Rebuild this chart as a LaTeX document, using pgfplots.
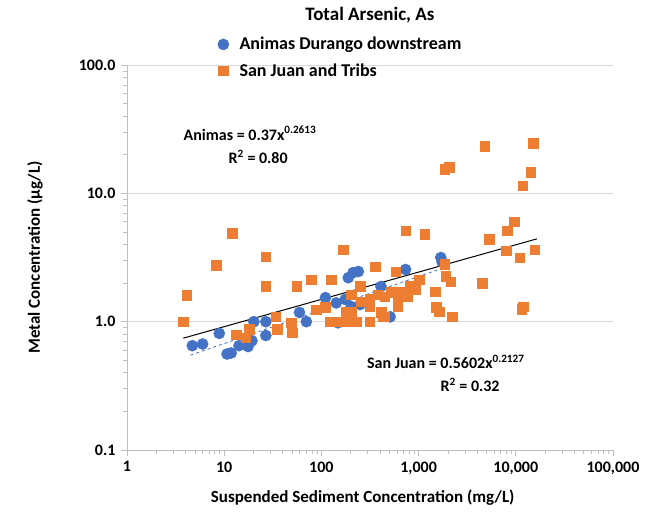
\documentclass[border=0pt]{standalone}
\usepackage{fontspec}
\setmainfont{Carlito}
\usepackage{pgfplots}
\pgfplotsset{compat=1.18}
\definecolor{exblue}{RGB}{68,114,196}
\definecolor{exorange}{RGB}{237,125,49}
\definecolor{axgray}{RGB}{191,191,191}
\definecolor{gridgray}{RGB}{217,217,217}

\begin{document}
\begin{tikzpicture}
\useasboundingbox (-127pt,-62pt) rectangle (522pt,450pt);
\begin{axis}[
  at={(0,0)}, anchor=south west,
  scale only axis, width=486pt, height=385pt,
  xmode=log, ymode=log,
  xmin=1, xmax=100000, ymin=0.1, ymax=100,
  xtick={1,10,100,1000,10000,100000},
  xticklabels={1,10,100,{1,000},{10,000},{100,000}},
  ytick={0.1,1,10,100},
  yticklabels={0.1,1.0,10.0,100.0},
  axis x line*=bottom, axis y line*=left,
  axis line style={axgray, line width=0.9pt},
  ymajorgrids, major grid style={gridgray, line width=0.9pt},
  tick align=outside, tick style={axgray, line width=0.7pt},
  major tick length=6pt, minor tick length=4pt,
  tick label style={font=\fontsize{16}{18}\selectfont\bfseries, text=black},
  xticklabel style={yshift=-2pt},
  yticklabel style={xshift=-2pt},
  xlabel={Suspended Sediment Concentration (mg/L)},
  ylabel={Metal Concentration (µg/L)},
  label style={font=\fontsize{17}{20}\selectfont\bfseries},
  xlabel style={at={(axis description cs:0.485,-0.1247)}, anchor=center},
  ylabel style={at={(axis description cs:-0.1893,0.5)}, anchor=center, rotate=0},
  legend style={at={(axis description cs:0.1728,1.0195)}, anchor=west,
    draw=none, fill=none, inner sep=0pt, row sep=8pt,
    font=\fontsize{18}{21}\selectfont\bfseries},
  legend cell align=left,
  legend image code/.code={\path (0pt,0pt) (26pt,0pt);
    \draw[#1, mark repeat=2, mark phase=2] plot coordinates {(0pt,0pt) (12pt,0pt) (24pt,0pt)};},
  title={Total Arsenic, As},
  title style={font=\fontsize{19}{22}\selectfont\bfseries, at={(axis description cs:0.5,1.114)}, anchor=center},
]
\addplot[only marks, mark=*, mark size=5.6pt, draw=exblue, fill=exblue] coordinates {
(4.7,0.65) (6.0,0.67) (8.9,0.81) (10.7,0.56) (11.8,0.57) (14.2,0.65) (17.6,0.64)
(19.3,0.71) (20.2,1.0) (26.8,1.0) (26.8,0.78) (59.5,1.18) (70,1.0) (110,1.54)
(142,1.4) (176,1.49) (148,0.98) (189,2.2) (212,2.41) (240,2.46) (203,1.31)
(250,1.36) (410,1.88) (570,1.69) (510,1.09) (734,2.55) (1690,3.16) (1750,2.9)
};
\addlegendentry{Animas Durango downstream}
\addplot[only marks, mark=square*, mark size=4.8pt, draw=exorange, fill=exorange] coordinates {
(3.8,1.0) (4.1,1.6) (8.3,2.74) (12.1,4.9) (26.8,3.2) (26.8,1.9) (13.2,0.79)
(16.7,0.75) (18,0.87) (34,1.09) (35,0.87) (49,0.98) (50,0.82) (55.7,1.88)
(79,2.13) (126,2.13) (168,3.65) (89,1.24) (110,1.29) (123,1.0) (156,1.0)
(189,1.0) (227,1.0) (315,1.0) (430,1.09) (356,2.69) (250,1.88) (203,1.62)
(315,1.49) (380,1.62) (180,1.18) (203,1.18) (255,1.43) (315,1.31) (450,1.57)
(520,1.69) (650,1.71) (610,1.49) (770,1.57) (410,1.18) (610,1.31) (450,1.09)
(580,2.46) (810,1.88) (930,1.78) (1010,2.13) (734,5.1) (1160,4.78) (1490,1.71)
(1520,1.29) (1640,1.2) (2220,1.09) (1850,2.79) (1900,2.25) (2130,2.05)
(1850,15.4) (2070,15.9) (4800,23.3) (4540,2.0) (5300,4.38) (8000,3.58)
(8200,5.1) (9600,6.0) (11000,3.15) (11800,11.5) (14300,14.6) (15200,24.6)
(15700,3.65) (12000,1.31) (11500,1.25)
};
\addlegendentry{San Juan and Tribs}
\addplot[black, line width=1pt, forget plot] coordinates {(3.8,0.7442) (16500,4.420)};
\addplot[exblue, line width=0.8pt, dashed, forget plot] coordinates {(4.5,0.5482) (1850,2.642)};
\node[font=\fontsize{16}{19}\selectfont\bfseries] at (rel axis cs:0.253,0.823) {Animas = 0.37x\textsuperscript{0.2613}};
\node[font=\fontsize{16}{19}\selectfont\bfseries] at (rel axis cs:0.270,0.761) {R\textsuperscript{2} = 0.80};
\node[font=\fontsize{16}{19}\selectfont\bfseries] at (rel axis cs:0.656,0.229) {San Juan = 0.5602x\textsuperscript{0.2127}};
\node[font=\fontsize{16}{19}\selectfont\bfseries] at (rel axis cs:0.706,0.169) {R\textsuperscript{2} = 0.32};
\end{axis}
\end{tikzpicture}
\end{document}
